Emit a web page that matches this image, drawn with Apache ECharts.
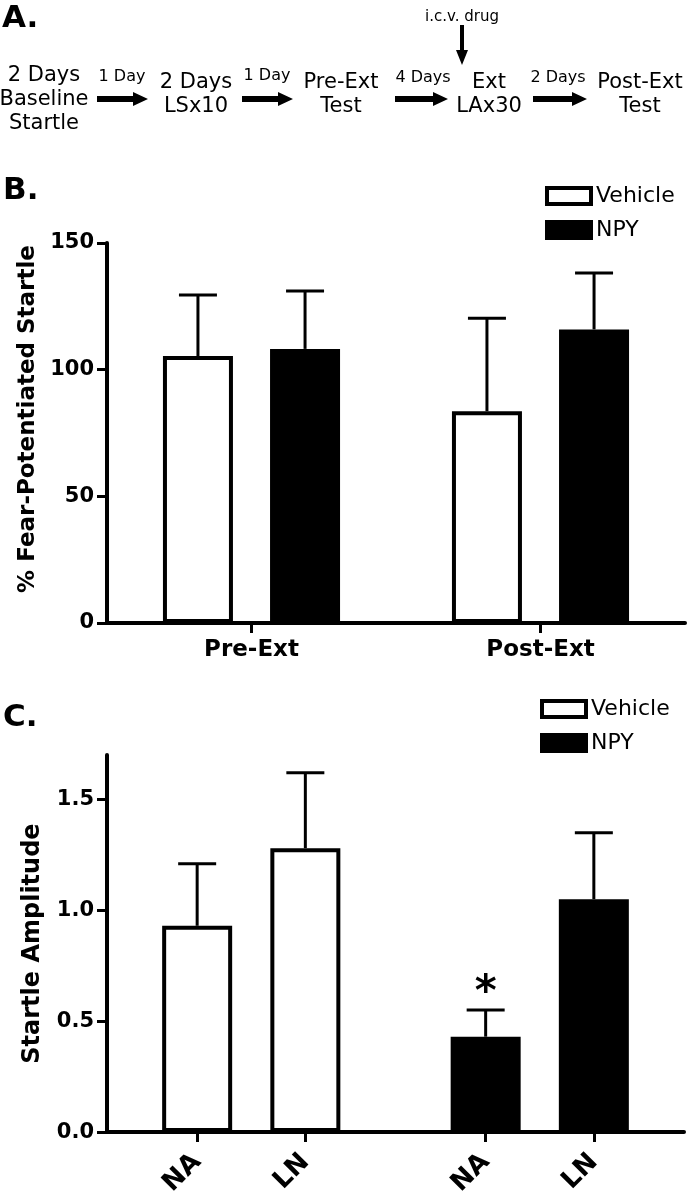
<!DOCTYPE html>
<html><head><meta charset="utf-8">
<script src="https://cdn.jsdelivr.net/npm/echarts@6/dist/echarts.min.js"></script>
<style>html,body{margin:0;padding:0;background:#fff}#c{width:691px;height:1199px}</style>
</head><body><div id="c"></div>
<script>
// ---------- data ----------
const seriesNames = ['Vehicle', 'NPY'];
// Panel B: % fear-potentiated startle
const catsB = ['Pre-Ext', 'Post-Ext'];
const vehB = [105.4, 83.6];
const vehBsem = [24.1, 36.7];
const npyB = [108.2, 115.9];
const npyBsem = [22.9, 22.3];
const ticksB = [0, 50, 100, 150];
// Panel C: startle amplitude ('' = spacing slot)
const catsC = ['', '', 'NA', '', '', 'LN', '', '', '', '', 'NA', '', '', 'LN', '', ''];
const vehC = [0.93, 1.28];
const vehCsem = [0.28, 0.34];
const npyC = [0.43, 1.05];
const npyCsem = [0.12, 0.30];
const sigC = ['', '', '*', '']; // Vehicle NA, Vehicle LN, NPY NA, NPY LN
const ticksC = [0, 0.5, 1.0, 1.5];

// ---------- styles ----------
const FF = 'DejaVu Sans';
const BAR_W = 70, BAR_GAP = 0.53, BORDER = 4;
const CAP = 19;
const axisLineS = { show: true, lineStyle: { color: '#000', width: 4 } };
const tickS = { show: true, length: 10, lineStyle: { color: '#000', width: 3 } };

const chart = echarts.init(document.getElementById('c'), null, { renderer: 'canvas' });

// build panel C bar arrays on slots
const slotsC = catsC.map((c, i) => c ? i : -1).filter(i => i >= 0);
const vehSlots = slotsC.slice(0, 2), npySlots = slotsC.slice(2);
const vehCdata = catsC.map(() => null), npyCdata = catsC.map(() => null);
vehSlots.forEach((s, k) => vehCdata[s] = vehC[k]);
npySlots.forEach((s, k) => npyCdata[s] = npyC[k]);

const errB = [];
vehB.forEach((v, i) => errB.push([i, v, vehBsem[i], -1]));
npyB.forEach((v, i) => errB.push([i, v, npyBsem[i], 1]));
const errC = [];
vehC.forEach((v, k) => errC.push([vehSlots[k], v, vehCsem[k], 0]));
npyC.forEach((v, k) => errC.push([npySlots[k], v, npyCsem[k], 0]));

function errRender(offsetPx, sig) {
  return function (params, api) {
    const x = api.value(0), m = api.value(1), s = api.value(2), sign = api.value(3);
    const base = api.coord([x, m]);
    const top = api.coord([x, m + s]);
    const cx = base[0] + offsetPx * sign;
    const children = [
      { type: 'line', shape: { x1: cx, y1: base[1], x2: cx, y2: top[1] }, style: { stroke: '#000', lineWidth: 3 } },
      { type: 'line', shape: { x1: cx - CAP, y1: top[1], x2: cx + CAP, y2: top[1] }, style: { stroke: '#000', lineWidth: 3 } }
    ];
    if (sig && sig[params.dataIndex]) {
      children.push({ type: 'text', x: cx, y: top[1] - 16, style: { text: sig[params.dataIndex], fontSize: 42, fontWeight: 'bold', fontFamily: FF, align: 'center', verticalAlign: 'middle', fill: '#000' } });
    }
    return { type: 'group', children };
  };
}

function hArrow(x0, x1, y) {
  return { type: 'polygon', shape: { points: [[x0, y - 3], [x1 - 15, y - 3], [x1 - 15, y - 7], [x1, y], [x1 - 15, y + 7], [x1 - 15, y + 3], [x0, y + 3]] }, style: { fill: '#000' } };
}
function vArrow(x, y0, y1) {
  return { type: 'polygon', shape: { points: [[x - 2, y0], [x + 2, y0], [x + 2, y1 - 15], [x + 6, y1 - 15], [x, y1], [x - 6, y1 - 15], [x - 2, y1 - 15]] }, style: { fill: '#000' } };
}
function txt(t, x, y, size, bold, align) {
  return { type: 'text', x, y, style: { text: t, fontSize: size, fontWeight: bold ? 'bold' : 'normal', fontFamily: FF, align: align || 'center', verticalAlign: 'middle', fill: '#000' } };
}

const legendBase = {
  data: seriesNames, orient: 'vertical', icon: 'rect', itemWidth: 44, itemHeight: 16, itemGap: 12,
  selectedMode: false, itemStyle: { borderColor: '#000', borderWidth: BORDER },
  textStyle: { fontFamily: FF, fontSize: 22, color: '#000' }
};

chart.setOption({
  animation: false,
  backgroundColor: '#fff',
  textStyle: { fontFamily: FF },
  grid: [
    { left: 107, right: 6, top: 243, height: 380 },
    { left: 107, right: 7, top: 755, height: 378 }
  ],
  legend: [
    Object.assign({}, legendBase, { left: 540, top: 180 }),
    Object.assign({}, legendBase, { left: 535, top: 693 })
  ],
  xAxis: [
    { type: 'category', gridIndex: 0, data: catsB, axisLine: axisLineS,
      axisTick: Object.assign({ alignWithLabel: true }, tickS),
      axisLabel: { fontFamily: FF, fontWeight: 'bold', fontSize: 23, color: '#000', margin: 16 } },
    { type: 'category', gridIndex: 1, data: catsC, axisLine: axisLineS,
      axisTick: Object.assign({ alignWithLabel: true, interval: (i) => catsC[i] !== '' }, tickS),
      axisLabel: { interval: 0, rotate: 45, fontFamily: FF, fontWeight: 'bold', fontSize: 26, color: '#000', margin: 26 } }
  ],
  yAxis: [
    { type: 'value', gridIndex: 0, min: 0, max: 150, interval: 50, axisLine: axisLineS, axisTick: tickS,
      splitLine: { show: false },
      axisLabel: { customValues: ticksB, fontFamily: FF, fontWeight: 'bold', fontSize: 21, color: '#000', margin: 13 },
      name: '% Fear-Potentiated Startle', nameLocation: 'middle', nameGap: 64,
      nameTextStyle: { fontFamily: FF, fontWeight: 'bold', fontSize: 23, color: '#000', padding: [0, 0, 0, 28] } },
    { type: 'value', gridIndex: 1, min: 0, max: 1.7, axisLine: axisLineS,
      axisTick: Object.assign({ customValues: ticksC }, tickS),
      splitLine: { show: false },
      axisLabel: { customValues: ticksC, formatter: v => v.toFixed(1), fontFamily: FF, fontWeight: 'bold', fontSize: 21, color: '#000', margin: 13 },
      name: 'Startle Amplitude', nameLocation: 'middle', nameGap: 62,
      nameTextStyle: { fontFamily: FF, fontWeight: 'bold', fontSize: 24, color: '#000' } }
  ],
  series: [
    { name: 'Vehicle', type: 'bar', xAxisIndex: 0, yAxisIndex: 0, data: vehB, barWidth: BAR_W, barGap: (BAR_GAP * 100) + '%',
      itemStyle: { color: '#fff', borderColor: '#000', borderWidth: BORDER }, z: 3 },
    { name: 'NPY', type: 'bar', xAxisIndex: 0, yAxisIndex: 0, data: npyB, barWidth: BAR_W, barGap: (BAR_GAP * 100) + '%',
      itemStyle: { color: '#000', borderColor: '#000', borderWidth: BORDER }, z: 3 },
    { name: 'errB', type: 'custom', xAxisIndex: 0, yAxisIndex: 0, data: errB, z: 4,
      encode: { x: 0, y: 1 }, renderItem: errRender(BAR_W * (1 + BAR_GAP) / 2, null) },
    { name: 'Vehicle', type: 'bar', xAxisIndex: 1, yAxisIndex: 1, data: vehCdata, barWidth: BAR_W, barGap: '-100%',
      itemStyle: { color: '#fff', borderColor: '#000', borderWidth: BORDER }, z: 3 },
    { name: 'NPY', type: 'bar', xAxisIndex: 1, yAxisIndex: 1, data: npyCdata, barWidth: BAR_W, barGap: '-100%',
      itemStyle: { color: '#000', borderColor: '#000', borderWidth: BORDER }, z: 3 },
    { name: 'errC', type: 'custom', xAxisIndex: 1, yAxisIndex: 1, data: errC, z: 4,
      encode: { x: 0, y: 1 }, renderItem: errRender(0, sigC) }
  ],
  graphic: [
    txt('A.', 2, 19, 31, true, 'left'),
    txt('B.', 3, 191, 31, true, 'left'),
    txt('C.', 3, 718, 31, true, 'left'),
    txt('2 Days', 44, 76, 21), txt('Baseline', 44, 100, 21), txt('Startle', 44, 124, 21),
    txt('1 Day', 122, 77, 16), hArrow(97, 148, 99),
    txt('2 Days', 196, 83, 21), txt('LSx10', 196, 107, 21),
    txt('1 Day', 267, 76, 16), hArrow(242, 293, 99),
    txt('Pre-Ext', 341, 83, 21), txt('Test', 341, 107, 21),
    txt('4 Days', 423, 78, 16), hArrow(395, 448, 99),
    txt('i.c.v. drug', 462, 17, 15), vArrow(462, 25, 65),
    txt('Ext', 489, 83, 21), txt('LAx30', 489, 107, 21),
    txt('2 Days', 558, 78, 16), hArrow(533, 587, 99),
    txt('Post-Ext', 640, 83, 21), txt('Test', 640, 107, 21)
  ]
});
</script></body></html>
